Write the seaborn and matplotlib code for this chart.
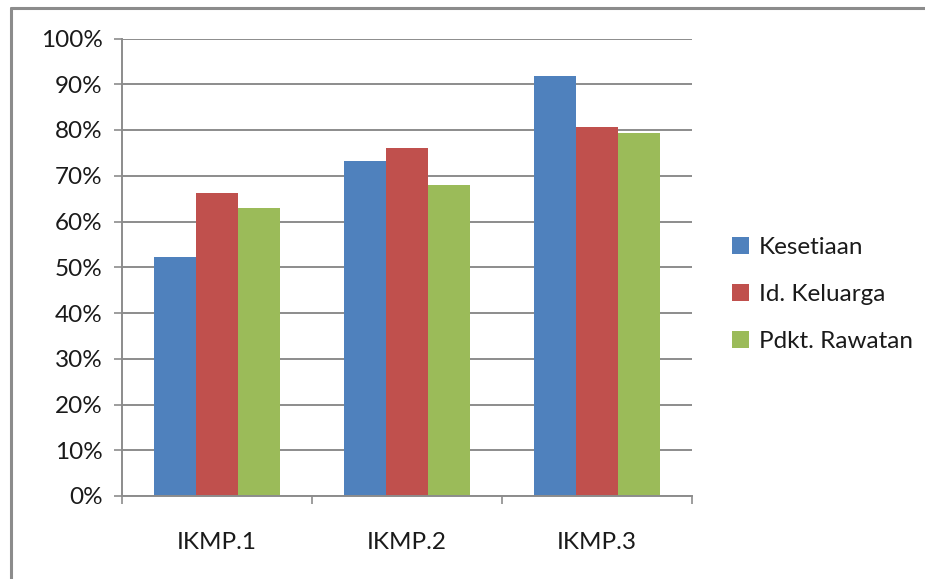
import matplotlib
matplotlib.use("Agg")
import matplotlib.pyplot as plt
from matplotlib.lines import Line2D
from matplotlib.ticker import FixedLocator, PercentFormatter
import seaborn as sns
import pandas as pd

categories = ["IKMP.1", "IKMP.2", "IKMP.3"]
series = ["Kesetiaan", "Id. Keluarga", "Pdkt. Rawatan"]
kesetiaan = [52.2, 73.2, 91.8]
id_keluarga = [66.2, 76.1, 80.7]
pdkt_rawatan = [62.9, 67.9, 79.3]
colors = ["#4F81BD", "#C0504D", "#9BBB59"]

rows = []
for name, vals in zip(series, [kesetiaan, id_keluarga, pdkt_rawatan]):
    for cat, v in zip(categories, vals):
        rows.append({"cat": cat, "series": name, "value": v})
df = pd.DataFrame(rows)

sns.set_theme(style="white")
plt.rcParams["font.family"] = ["Lato", "DejaVu Sans"]

FS = 17.5
fig = plt.figure(figsize=(9.25, 5.79), dpi=100)
ax = fig.add_axes([122 / 925, 1 - 496 / 579, (692 - 122) / 925, (496 - 38.5) / 579])

sns.barplot(data=df, x="cat", y="value", hue="series", palette=colors,
            width=0.66, saturation=1, ax=ax, edgecolor="none", linewidth=0)

grid_c = "#8C8C8C"
ax.set_ylim(0, 100)
ax.set_xlim(-0.5, 2.5)
ax.yaxis.set_major_locator(FixedLocator(range(0, 101, 10)))
ax.yaxis.set_major_formatter(PercentFormatter(decimals=0))
ax.grid(axis="y", color=grid_c, linewidth=1.4)
ax.set_axisbelow(True)
ax.set_xlabel("")
ax.set_ylabel("")

for s in ["top", "right"]:
    ax.spines[s].set_visible(False)
for s in ["left", "bottom"]:
    ax.spines[s].set_color(grid_c)
    ax.spines[s].set_linewidth(1.4)

ax.tick_params(axis="y", which="major", left=True, length=6, width=1.2,
               color=grid_c, labelsize=FS, labelcolor="#1a1a1a", pad=8)
ax.tick_params(axis="x", which="major", bottom=False, labelsize=FS,
               labelcolor="#1a1a1a", pad=20)
ax.xaxis.set_minor_locator(FixedLocator([-0.5, 0.5, 1.5, 2.5]))
ax.tick_params(axis="x", which="minor", bottom=True, length=6, width=1.2,
               color=grid_c)

handles = [plt.Rectangle((0, 0), 1, 1, facecolor=c, edgecolor="none") for c in colors]
ax.legend(handles, series, loc="center left", bbox_to_anchor=(1.032, 0.44),
          frameon=False, fontsize=FS, handlelength=0.7, handleheight=0.7,
          handletextpad=0.4, labelspacing=1.08, labelcolor="#1a1a1a")

# outer chart frame
fig.add_artist(Line2D([10.5 / 925, 10.5 / 925], [0, 1 - 8 / 579],
                      transform=fig.transFigure, color="#8C8C8C", linewidth=2.2))
fig.add_artist(Line2D([10.5 / 925, 1], [1 - 8 / 579, 1 - 8 / 579],
                      transform=fig.transFigure, color="#8C8C8C", linewidth=2.2))

fig.savefig("out.png", dpi=100)
